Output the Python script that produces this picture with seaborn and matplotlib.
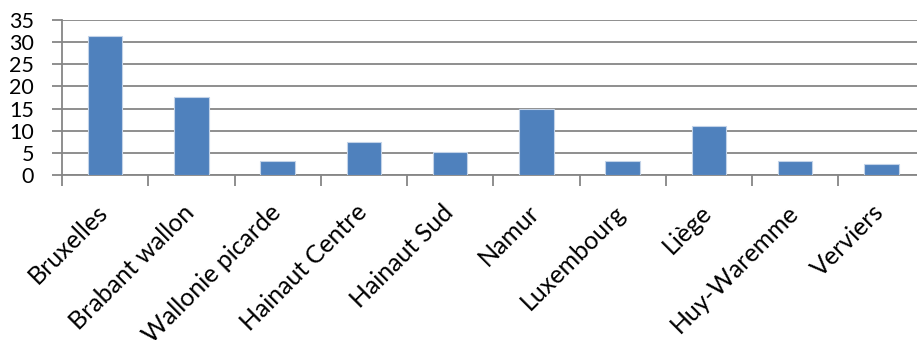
import matplotlib
matplotlib.use("Agg")
import matplotlib.pyplot as plt
import matplotlib.transforms as mtransforms
import seaborn as sns
import pandas as pd
import numpy as np

# Regional values
regions = ["Bruxelles", "Brabant wallon", "Wallonie picarde", "Hainaut Centre",
           "Hainaut Sud", "Namur", "Luxembourg", "Liège", "Huy-Waremme", "Verviers"]
values = [31.5, 17.7, 3.1, 7.4, 5.2, 14.8, 3.1, 11.0, 3.1, 2.5]
y_ticks = [0, 5, 10, 15, 20, 25, 30, 35]

sns.set_theme(style="white")
plt.rcParams["font.family"] = ["Lato", "DejaVu Sans"]

df = pd.DataFrame({"region": regions, "value": values})

fig = plt.figure(figsize=(9.17, 3.40), dpi=100)
ax = fig.add_axes([62 / 917, 165 / 340, 862.5 / 917, 155 / 340])

grid_col = "#868686"
sns.barplot(data=df, x="region", y="value", color="#4F81BD", width=0.4,
            edgecolor="#c3d3e8", linewidth=0.8, saturation=1, ax=ax, zorder=3)

ax.set_ylim(0, 35)
ax.set_xlim(-0.5, len(regions) - 0.5)
ax.set_yticks(y_ticks)
ax.set_yticklabels([str(t) for t in y_ticks], fontsize=15.5, color="black")
ax.yaxis.grid(True, color=grid_col, linewidth=1.3, zorder=0)
ax.set_axisbelow(True)
ax.tick_params(axis="y", length=7, width=1.3, color=grid_col, pad=13, left=True)

# Category boundary ticks on the x axis
ax.set_xticks(np.arange(len(regions)) - 0.5, minor=True)
ax.tick_params(axis="x", which="minor", length=8, width=1.3, color=grid_col, bottom=True)
ax.tick_params(axis="x", which="major", length=0, pad=19)
ax.set_xticks(range(len(regions)))
ax.set_xticklabels(regions, rotation=45, ha="right", va="top",
                   rotation_mode="anchor", fontsize=18, color="black")

# Nudge the slanted labels slightly left so their ends sit under the bars
shift = mtransforms.ScaledTranslation(-9 / 100, 1 / 100, fig.dpi_scale_trans)
for lbl in ax.get_xticklabels():
    lbl.set_transform(lbl.get_transform() + shift)

ax.set_xlabel("")
ax.set_ylabel("")
for side in ["top", "right"]:
    ax.spines[side].set_visible(False)
for side in ["left", "bottom"]:
    ax.spines[side].set_color(grid_col)
    ax.spines[side].set_linewidth(1.3)

fig.savefig("out.png", dpi=100)
